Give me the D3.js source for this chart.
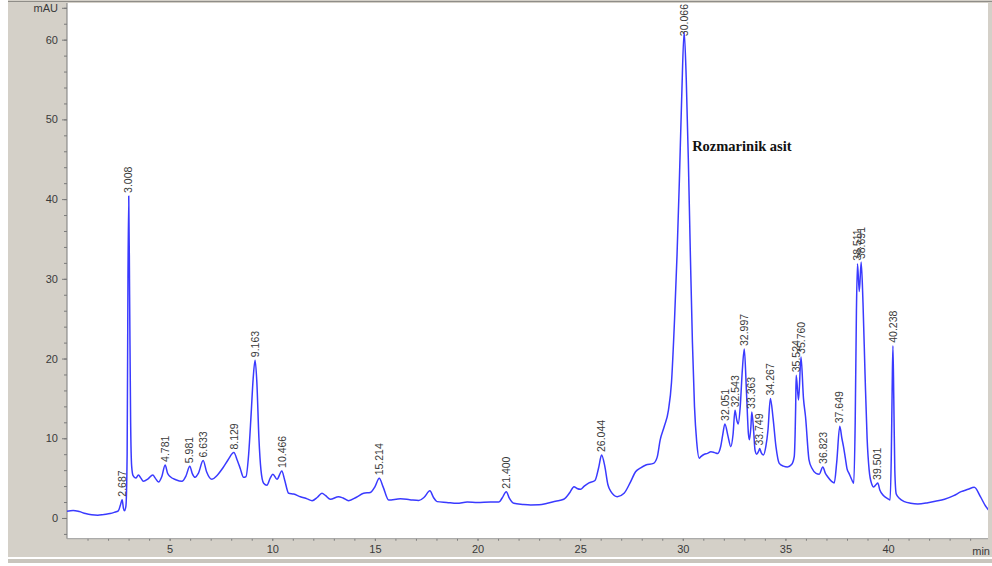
<!DOCTYPE html>
<html>
<head>
<meta charset="utf-8">
<script src="https://cdn.jsdelivr.net/npm/d3@7"></script>
<style>
  html, body { margin: 0; padding: 0; background: #ffffff; }
  svg { display: block; }
</style>
</head>
<body>
<svg id="chart" width="992" height="566"></svg>
<script>
// Retention time (min) and detector signal (mAU) of the chromatogram trace
const times = [
  0.0, 0.3, 0.6, 0.9, 1.2, 1.5, 1.8, 2.1, 2.3, 2.5, 2.6, 2.687, 2.75, 2.8, 2.87, 2.93, 2.97, 3.008, 3.05, 3.1,
  3.15, 3.22, 3.35, 3.48, 3.6, 3.72, 3.95, 4.18, 4.3, 4.46, 4.62, 4.781, 4.9, 5.02, 5.3, 5.6, 5.8, 5.981, 6.1, 6.24,
  6.4, 6.633, 6.8, 7.06, 7.3, 7.6, 7.85, 8.129, 8.3, 8.44, 8.6, 8.72, 8.85, 8.97, 9.07, 9.163, 9.25, 9.35, 9.45, 9.58,
  9.74, 9.9, 10.03, 10.23, 10.466, 10.6, 10.8, 11.04, 11.37, 11.7, 11.94, 12.2, 12.42, 12.6, 12.83, 13.23, 13.45, 13.72, 14.1, 14.45,
  14.78, 15.0, 15.214, 15.4, 15.67, 16.24, 16.7, 17.14, 17.4, 17.68, 17.85, 18.03, 18.5, 19.0, 19.5, 20.0, 20.63, 21.04, 21.2, 21.4,
  21.55, 21.77, 22.2, 22.59, 23.0, 23.4, 23.8, 24.2, 24.5, 24.7, 24.85, 25.02, 25.2, 25.43, 25.72, 25.9, 26.044, 26.2, 26.35, 26.5,
  26.81, 27.14, 27.45, 27.7, 27.95, 28.2, 28.57, 28.75, 28.9, 29.1, 29.3, 29.45, 29.6, 29.72, 29.83, 29.95, 30.066, 30.17, 30.27, 30.37,
  30.47, 30.57, 30.68, 30.8, 30.88, 31.05, 31.2, 31.37, 31.55, 31.7, 31.85, 31.95, 32.051, 32.2, 32.34, 32.45, 32.543, 32.63, 32.7, 32.8,
  32.9, 32.997, 33.1, 33.2, 33.25, 33.32, 33.363, 33.45, 33.52, 33.6, 33.7, 33.749, 33.82, 33.93, 34.05, 34.15, 34.267, 34.4, 34.54, 34.7,
  34.9, 35.1, 35.3, 35.43, 35.5, 35.524, 35.64, 35.76, 35.88, 35.98, 36.15, 36.3, 36.49, 36.65, 36.823, 36.95, 37.05, 37.25, 37.38, 37.5,
  37.649, 37.75, 37.83, 37.92, 38.0, 38.1, 38.25, 38.33, 38.4, 38.46, 38.511, 38.6, 38.691, 38.78, 38.88, 38.98, 39.08, 39.2, 39.3, 39.42,
  39.501, 39.6, 39.8, 40.0, 40.1, 40.16, 40.2, 40.238, 40.28, 40.33, 40.4, 40.55, 40.8, 41.1, 41.45, 41.94, 42.3, 42.75, 43.2, 43.56,
  43.9, 44.2, 44.5, 44.75, 44.9
];
const signal = [
  0.85, 0.95, 0.8, 0.55, 0.4, 0.35, 0.45, 0.55, 0.7, 0.9, 1.6, 2.3, 1.2, 0.9, 1.5, 8, 30, 40.4, 28, 12,
  6.5, 5.3, 5.0, 5.4, 5.0, 4.6, 4.9, 5.4, 5.0, 4.5, 5.2, 6.65, 5.6, 5.2, 4.8, 4.6, 5.3, 6.5, 5.6, 5.1,
  5.6, 7.2, 5.8, 4.85, 5.3, 6.3, 7.3, 8.2, 7.2, 6.2, 5.1, 5.2, 8, 13, 17.5, 19.8, 17, 10, 6, 4.35,
  4.1, 5.0, 5.5, 4.85, 5.9, 4.8, 3.1, 3.0, 2.67, 2.4, 2.17, 2.6, 3.1, 2.8, 2.35, 2.67, 2.5, 2.17, 2.6, 3.1,
  3.2, 3.9, 4.97, 3.9, 2.26, 2.4, 2.3, 2.2, 2.6, 3.4, 2.6, 2.05, 1.95, 1.84, 2.0, 1.95, 2.0, 2.0, 2.5, 3.3,
  2.5, 1.84, 1.7, 1.63, 1.65, 1.84, 2.1, 2.35, 3.2, 3.93, 3.7, 3.6, 4.0, 4.4, 4.7, 6.3, 7.9, 6.5, 4.2, 3.3,
  2.67, 3.1, 4.5, 5.8, 6.3, 6.65, 6.85, 7.6, 9.8, 11.5, 13.5, 17, 25, 33, 42, 53, 61.0, 55, 45, 33,
  22, 14, 9.5, 7.5, 7.7, 8.0, 8.1, 8.3, 8.2, 8.1, 9, 10.5, 11.8, 10.3, 8.95, 10.5, 13.5, 12.3, 11.8, 14,
  18.5, 21.2, 16, 10.5, 9.8, 11.5, 13.3, 11, 8.5, 8.0, 8.4, 8.7, 8.2, 7.9, 9.0, 11, 15.0, 12.5, 8.95, 6.85,
  6.5, 6.4, 6.7, 7.7, 14, 17.9, 14.8, 20.2, 15, 12.7, 7.3, 6.2, 5.6, 5.5, 6.4, 5.6, 5.2, 4.6, 4.4, 7,
  11.5, 10, 8.95, 7.5, 6.2, 5.6, 4.7, 4.35, 12, 26, 31.9, 28.4, 32.1, 27, 18, 10, 6, 4.3, 3.9, 4.2,
  4.4, 3.5, 2.76, 2.4, 2.26, 8, 16, 21.6, 15, 6, 3, 2.47, 2.05, 1.85, 1.76, 1.92, 2.1, 2.35, 2.8, 3.3,
  3.6, 3.85, 2.67, 1.5, 1.0
];

// Integrated peaks: retention times printed above each peak
const peakTimes = [2.687, 3.008, 4.781, 5.981, 6.633, 8.129, 9.163, 10.466, 15.214, 21.400, 26.044, 30.066,
  32.051, 32.543, 32.997, 33.363, 33.749, 34.267, 35.524, 35.760, 36.823, 37.649, 38.511, 38.691, 39.501, 40.238];

// Axis ticks
const xMajorTicks = [5, 10, 15, 20, 25, 30, 35, 40];
const xMinorTicks = d3.range(1, 45);
const yMajorTicks = [0, 10, 20, 30, 40, 50, 60];
const yMinorTicks = d3.range(-2, 65, 2);

// Annotation of the main compound
const compoundName = "Rozmarinik asit";
const compoundTime = 30.066;

const W = 992, H = 566;
const plot = { left: 67, right: 988, top: 3, bottom: 538.7 };

const x = d3.scaleLinear().domain([0, 44.87]).range([plot.left, plot.right]);
const y = d3.scaleLinear().domain([-2.6, 64.6]).range([plot.bottom, plot.top]);

const svg = d3.select("#chart");

// Window frame
svg.append("rect").attr("x", 0).attr("y", 0).attr("width", W).attr("height", H).attr("fill", "#ffffff");
svg.append("rect").attr("x", 8).attr("y", 0).attr("width", W - 8).attr("height", 557).attr("fill", "#d4d0c8");
svg.append("rect").attr("x", 8).attr("y", 559).attr("width", W - 8).attr("height", 4).attr("fill", "#c9c5bd");
svg.append("line").attr("x1", 8).attr("x2", W).attr("y1", 1.5).attr("y2", 1.5)
  .attr("stroke", "#8f8d88").attr("stroke-width", 1.2);
svg.append("rect").attr("x", plot.left).attr("y", plot.top)
  .attr("width", plot.right - plot.left).attr("height", plot.bottom - plot.top).attr("fill", "#ffffff");

svg.append("defs").append("clipPath").attr("id", "plotclip")
  .append("rect").attr("x", plot.left).attr("y", plot.top)
  .attr("width", plot.right - plot.left).attr("height", plot.bottom - plot.top);

const axisColor = "#7a7a7a";
const textColor = "#3a3a3a";

// Y axis: minor then major ticks
const yMinor = svg.append("g").attr("transform", `translate(${plot.left},0)`)
  .call(d3.axisLeft(y).tickValues(yMinorTicks).tickSize(3).tickFormat(""));
const yMajor = svg.append("g").attr("transform", `translate(${plot.left},0)`)
  .call(d3.axisLeft(y).tickValues(yMajorTicks.concat([64])).tickSize(5).tickPadding(4)
    .tickFormat(d => d === 64 ? "mAU" : d));
[yMinor, yMajor].forEach(g => {
  g.select(".domain").remove();
  g.selectAll(".tick line").attr("stroke", axisColor);
  g.selectAll(".tick text").attr("fill", textColor)
    .style("font-family", "Liberation Sans, Arial, sans-serif").style("font-size", "11px");
});

// X axis: ruler-like ticks under the plot
const xMinor = svg.append("g").attr("transform", `translate(0,${plot.bottom})`)
  .call(d3.axisBottom(x).tickValues(xMinorTicks).tickSize(2).tickFormat(""));
const xMajor = svg.append("g").attr("transform", `translate(0,${plot.bottom})`)
  .call(d3.axisBottom(x).tickValues(xMajorTicks).tickSize(2).tickPadding(5).tickFormat(d => d));
[xMinor, xMajor].forEach(g => {
  g.select(".domain").remove();
  g.selectAll(".tick line").attr("stroke", axisColor);
  g.selectAll(".tick text").attr("fill", textColor)
    .style("font-family", "Liberation Sans, Arial, sans-serif").style("font-size", "11px");
});
svg.append("text").attr("x", 990).attr("y", 555).attr("text-anchor", "end")
  .attr("fill", textColor).style("font-family", "Liberation Sans, Arial, sans-serif")
  .style("font-size", "11px").text("min");

// Axis lines
svg.append("line").attr("x1", plot.left).attr("x2", plot.left).attr("y1", plot.top).attr("y2", plot.bottom)
  .attr("stroke", axisColor).attr("stroke-width", 1);
svg.append("line").attr("x1", plot.left).attr("x2", plot.right).attr("y1", plot.bottom).attr("y2", plot.bottom)
  .attr("stroke", "#9a9a9a").attr("stroke-width", 1);

// Trace
const data = times.map((t, i) => ({ t, v: signal[i] }));
const line = d3.line().x(d => x(d.t)).y(d => y(d.v)).curve(d3.curveMonotoneX);
const plotG = svg.append("g").attr("clip-path", "url(#plotclip)");
plotG.append("path").datum(data).attr("d", line)
  .attr("fill", "none").attr("stroke", "#3a3aff").attr("stroke-width", 1.5)
  .attr("stroke-linejoin", "round");

// Peak retention-time labels, kept inside the plot's top edge
const valueAt = t => {
  const i = times.findIndex(tt => Math.abs(tt - t) < 1e-6);
  return signal[i];
};
const labels = svg.append("g").selectAll("text.peak").data(peakTimes).join("text")
  .attr("class", "peak")
  .attr("dy", "0.35em")
  .attr("fill", textColor)
  .style("font-family", "Liberation Sans, Arial, sans-serif")
  .style("font-size", "10.5px")
  .text(d => d.toFixed(3));
labels.attr("transform", function (d) {
  const len = this.getComputedTextLength();
  const start = Math.max(y(valueAt(d)) - 3, plot.top + 1 + len);
  return `translate(${x(d)},${start}) rotate(-90)`;
});

// Compound annotation
svg.append("text")
  .attr("x", x(compoundTime) + 8).attr("y", 151)
  .attr("fill", "#111111")
  .style("font-family", "Liberation Serif, 'Times New Roman', serif")
  .style("font-weight", "bold").style("font-size", "14.5px")
  .text(compoundName);
</script>
</body>
</html>
